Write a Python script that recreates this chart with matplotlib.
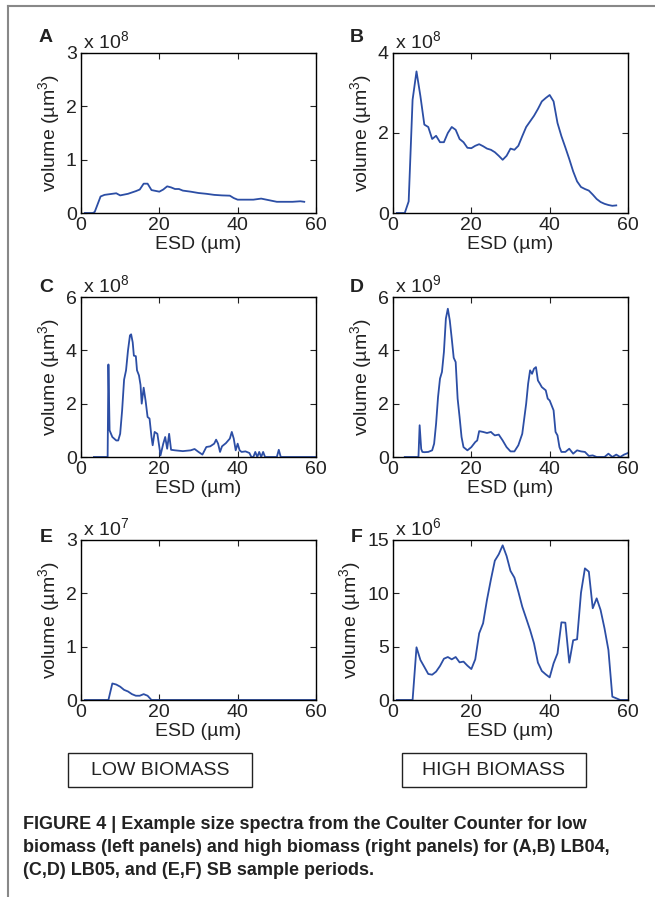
import numpy as np
import matplotlib.pyplot as plt
from matplotlib.patches import Rectangle
from matplotlib.lines import Line2D

plt.rcParams['font.family'] = ['Liberation Sans', 'DejaVu Sans']
plt.rcParams['mathtext.fontset'] = 'custom'
plt.rcParams['mathtext.rm'] = 'Liberation Sans'
plt.rcParams['mathtext.it'] = 'Liberation Sans'

# panel A (x 1e8)
a_esd = [1, 2, 3, 3.5, 5, 6, 9, 10, 12, 14, 15, 16, 17, 18, 20, 21, 22, 23, 24, 25, 26, 28, 30,
         32, 34, 36, 38, 39, 40, 42, 44, 46, 48, 50, 52, 54, 56, 57]
a_vol = [0, 0, 0, 0.02, 0.31, 0.34, 0.37, 0.33, 0.36, 0.41, 0.44, 0.55, 0.55, 0.43, 0.40, 0.44,
         0.50, 0.48, 0.45, 0.45, 0.42, 0.40, 0.375, 0.36, 0.34, 0.33, 0.325, 0.28, 0.25, 0.25,
         0.25, 0.27, 0.24, 0.21, 0.21, 0.21, 0.22, 0.21]

# panel B (x 1e8)
b_esd = list(range(1, 58))
b_vol = [0, 0, 0, 0.29, 2.83, 3.54, 2.92, 2.21, 2.15, 1.85, 1.93, 1.77, 1.77, 2.0, 2.15, 2.08,
         1.85, 1.77, 1.63, 1.62, 1.68, 1.72, 1.67, 1.61, 1.58, 1.52, 1.43, 1.33, 1.43, 1.61, 1.58,
         1.68, 1.92, 2.15, 2.29, 2.43, 2.6, 2.79, 2.875, 2.95, 2.79, 2.25, 1.92, 1.64, 1.35, 1.04,
         0.79, 0.65, 0.6, 0.56, 0.46, 0.35, 0.275, 0.23, 0.2, 0.18, 0.19]

# panel C (x 1e8)
c_esd = [3.3, 6.8, 7.0, 7.3, 8, 9, 9.5, 10, 10.5, 11, 11.5, 12, 12.5, 12.8, 13.2, 13.5, 14, 14.3,
         14.8, 15.2, 15.5, 16, 16.5, 17, 17.5, 18, 18.3, 18.8, 19.5, 20, 20.3, 21, 21.5, 22, 22.5,
         23, 24, 26, 28, 29, 30, 31, 32, 33, 34, 34.5, 35, 35.5, 36, 37, 38, 38.5, 39, 39.5, 40,
         40.5, 41, 42, 43, 43.5, 44, 44.5, 45, 45.5, 46, 46.5, 47, 50, 50.5, 51, 60]
c_vol = [0, 0, 3.47, 1.0, 0.75, 0.62, 0.62, 0.87, 1.75, 2.9, 3.25, 4.0, 4.56, 4.6, 4.3, 3.8, 3.78,
         3.25, 3.06, 2.7, 2.0, 2.6, 2.1, 1.5, 1.44, 0.75, 0.44, 0.94, 0.87, 0.37, 0.06, 0.5, 0.75,
         0.31, 0.87, 0.27, 0.25, 0.22, 0.25, 0.3, 0.19, 0.09, 0.375, 0.4, 0.5, 0.65, 0.5, 0.19,
         0.4, 0.52, 0.69, 0.94, 0.69, 0.25, 0.5, 0.25, 0.19, 0.21, 0.15, 0, 0, 0.19, 0, 0.19, 0,
         0.19, 0, 0, 0.27, 0, 0]

# panel D (x 1e9)
d_esd = [3, 6.5, 6.8, 7.2, 7.5, 8, 9, 10, 10.5, 11, 11.5, 12, 12.5, 13, 13.5, 14, 14.5, 15, 15.5,
         16, 16.5, 17, 17.5, 18, 19, 20, 21, 21.5, 22, 23, 24, 25, 25.5, 26, 27, 28, 29, 30, 31,
         32, 33, 34, 34.5, 35, 35.5, 36, 36.5, 37, 37.5, 38, 39, 39.5, 40, 41, 41.5, 42, 42.5, 43,
         44, 45, 46, 47, 48, 49, 50, 51, 52, 54, 55, 56, 57, 58, 59, 60]
d_vol = [0, 0, 1.19, 0.3, 0.19, 0.18, 0.19, 0.25, 0.5, 1.25, 2.25, 2.94, 3.19, 3.94, 5.19, 5.56,
         5.12, 4.44, 3.72, 3.56, 2.19, 1.5, 0.75, 0.37, 0.25, 0.37, 0.56, 0.62, 0.97, 0.94, 0.9,
         0.94, 0.87, 0.81, 0.84, 0.62, 0.37, 0.21, 0.21, 0.44, 0.87, 2.0, 2.75, 3.25, 3.12, 3.31,
         3.37, 2.87, 2.75, 2.62, 2.5, 2.19, 2.12, 1.75, 0.94, 0.81, 0.37, 0.19, 0.19, 0.31, 0.125,
         0.25, 0.21, 0.19, 0.04, 0.06, 0, 0, 0.125, 0, 0.09, 0, 0.09, 0.15]

# panel E (x 1e7)
e_esd = [1, 7, 8, 9, 10, 11, 12, 13, 14, 15, 16, 17, 18, 60]
e_vol = [0, 0, 0.31, 0.29, 0.25, 0.19, 0.16, 0.11, 0.08, 0.08, 0.11, 0.08, 0, 0]

# panel F (x 1e6)
f_esd = list(range(1, 61))
f_vol = [0, 0, 0, 0, 0, 4.94, 3.75, 3.1, 2.44, 2.37, 2.66, 3.19, 3.87, 4.03, 3.81, 4.03, 3.53,
         3.6, 3.22, 2.9, 3.81, 6.25, 7.19, 9.4, 11.3, 13.06, 13.66, 14.5, 13.5, 12.1, 11.47, 10.16,
         8.75, 7.66, 6.56, 5.31, 3.5, 2.72, 2.4, 2.12, 3.44, 4.37, 7.28, 7.25, 3.5, 5.6, 5.69,
         10.06, 12.34, 12.03, 8.6, 9.53, 8.44, 6.72, 4.69, 0.31, 0.16, 0, 0, 0]

letters = ['A', 'B', 'C', 'D', 'E', 'F']
exps = ['8', '8', '8', '9', '7', '6']
ylims = [3, 4, 6, 6, 3, 15]
yticks = [[0, 1, 2, 3], [0, 2, 4], [0, 2, 4, 6], [0, 2, 4, 6], [0, 1, 2, 3], [0, 5, 10, 15]]
series = [(a_esd, a_vol), (b_esd, b_vol), (c_esd, c_vol), (d_esd, d_vol), (e_esd, e_vol), (f_esd, f_vol)]

W, H = 655, 897
fig = plt.figure(figsize=(W / 100, H / 100), dpi=100)

lefts = [81, 393]
tops = [53, 297, 540]
letter_x = [46, 357]
letter_dy = [-15, -9, -3]   # letter centre above axes top, px
aw, ah = 235, 160
blue = '#2c4ea5'
ink = '#222222'

for i, (x, y) in enumerate(series):
    col, row = i % 2, i // 2
    l, t = lefts[col], tops[row]
    ax = fig.add_axes([l / W, (H - t - ah) / H, aw / W, ah / H])
    ax.plot(x, y, color=blue, lw=1.3)
    ax.set_xlim(0, 60)
    ax.set_ylim(0, ylims[i])
    ax.set_xticks([0, 20, 40, 60])
    ax.set_yticks(yticks[i])
    ax.tick_params(direction='in', top=True, right=True, labelsize=14, length=4, width=0.8,
                   colors=ink, pad=3)
    for s in ax.spines.values():
        s.set_linewidth(1.0)
    ax.set_xlabel('ESD (µm)', fontsize=14, labelpad=1, color=ink)
    ax.set_ylabel('volume (µm$^3$)', fontsize=14, labelpad=3, color=ink)
    fig.text((l + 2) / W, (H - t + 12) / H, 'x 10$^{' + exps[i] + '}$', fontsize=14,
             color=ink, va='center', ha='left')
    fig.text(letter_x[col] / W, (H - t - letter_dy[row]) / H, letters[i], fontsize=14,
             fontweight='bold', color=ink, va='center', ha='center')

# biomass boxes
for bx, label in [(68, 'LOW BIOMASS'), (402, 'HIGH BIOMASS')]:
    bw = 184
    fig.patches.append(Rectangle((bx / W, (H - 787) / H), bw / W, 34 / H, transform=fig.transFigure,
                                 fill=False, edgecolor=ink, lw=1.0))
    fig.text((bx + bw / 2) / W, (H - 770) / H, label, ha='center', va='center', fontsize=14,
             color=ink)

# grey frame top / left
fig.add_artist(Line2D([8 / W, 1], [1 - 6 / H, 1 - 6 / H], color='#888888', lw=1.5))
fig.add_artist(Line2D([8 / W, 8 / W], [0, 1 - 6 / H], color='#888888', lw=1.5))

caption = ['FIGURE 4 | Example size spectra from the Coulter Counter for low',
           'biomass (left panels) and high biomass (right panels) for (A,B) LB04,',
           '(C,D) LB05, and (E,F) SB sample periods.']
for k, line in enumerate(caption):
    fig.text(23 / W, (H - 824 - 23 * k) / H, line, ha='left', va='center', fontsize=13,
             fontweight='bold', color=ink)

fig.savefig('out.png', dpi=100)
